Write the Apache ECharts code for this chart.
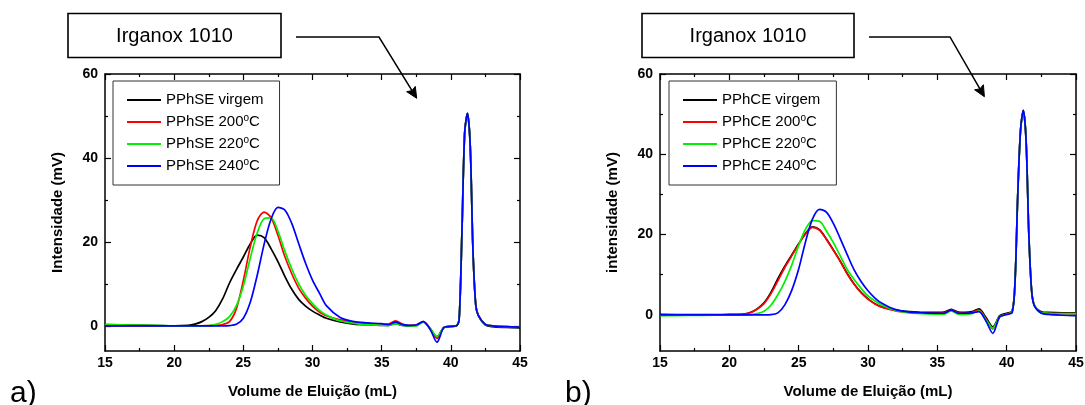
<!DOCTYPE html>
<html><head><meta charset="utf-8">
<script src="https://cdn.jsdelivr.net/npm/echarts@6/dist/echarts.min.js"></script>
<style>html,body{margin:0;padding:0;background:#fff;}#c{width:1085px;height:405px;}</style>
</head><body><div id="c"></div>
<script>
// ---------- data ----------
const elutionVol = [15, 17, 19, 20, 21, 21.5, 22, 22.5, 23, 23.5, 24, 24.5, 25, 25.5, 26, 26.5, 27, 27.5, 28, 28.5, 29, 29.5, 30, 30.5, 31, 32, 33, 34, 35, 35.5, 36, 36.5, 37, 37.5, 38, 38.5, 39, 39.5, 40, 40.4, 40.6, 40.8, 41, 41.2, 41.4, 41.6, 41.8, 42, 42.5, 43, 44, 45];

// a) PPhSE
const namesA = ['PPhSE virgem', 'PPhSE 200°C', 'PPhSE 220°C', 'PPhSE 240°C'];
const virgemA = [0.3, 0.2, 0.05, 0.0, 0.1, 0.4, 1.0, 2.0, 3.6, 6.4, 10.2, 13.4, 16.4, 19.5, 21.6, 21.0, 18.4, 15.3, 11.8, 8.7, 6.3, 4.7, 3.5, 2.6, 1.8, 0.9, 0.4, 0.25, 0.1, 0.1, 0.5, 0.1, 0.0, 0.1, 1.0, -0.7, -2.6, -0.4, -0.2, 0.0, 1.5, 22, 46, 50.6, 43, 18, 5, 2.3, 0.2, -0.2, -0.4, -0.5];
const t200A = [0.0, 0.0, 0.0, 0.0, 0.0, 0.0, 0.0, 0.05, 0.1, 0.3, 1.0, 4.1, 10.8, 18.8, 25.0, 27.1, 25.8, 21.6, 16.5, 12.4, 9.0, 6.6, 4.7, 3.3, 2.4, 1.4, 0.8, 0.5, 0.3, 0.4, 1.2, 0.4, 0.1, 0.2, 1.0, -0.6, -3.0, -0.4, -0.1, 0.0, 1.5, 22, 46, 50.6, 43, 18, 5, 2.4, 0.3, 0.0, -0.2, -0.3];
const t220A = [0.3, 0.2, 0.05, 0.0, 0.0, 0.0, 0.0, 0.05, 0.35, 1.0, 2.2, 4.8, 9.5, 16.1, 22.1, 25.5, 25.7, 22.6, 17.8, 13.6, 10.0, 7.3, 5.3, 3.7, 2.6, 1.2, 0.6, 0.3, 0.15, 0.1, 0.5, 0.1, 0.0, 0.0, 0.9, -0.6, -2.5, -0.4, -0.1, 0.1, 1.5, 22, 46, 50.6, 43, 18, 5, 2.4, 0.3, 0.0, -0.2, -0.3];
const t240A = [0, 0, 0, 0, 0, 0, 0, 0, 0, 0, 0.05, 0.35, 1.8, 5.6, 12.0, 19.4, 25.4, 28.2, 27.6, 24.4, 19.6, 14.9, 10.9, 7.8, 4.8, 2.0, 1.0, 0.7, 0.5, 0.3, 0.9, 0.3, 0.1, 0.2, 1.0, -0.8, -3.9, -0.4, -0.1, 0.0, 1.5, 22, 46, 50.6, 43, 18, 5, 2.4, 0.3, 0.0, -0.2, -0.3];

// b) PPhCE
const namesB = ['PPhCE virgem', 'PPhCE 200°C', 'PPhCE 220°C', 'PPhCE 240°C'];
const virgemB = [0.1, 0.05, 0.05, 0.1, 0.2, 0.6, 1.5, 3.0, 5.6, 9.0, 12.1, 14.9, 17.7, 20.3, 21.9, 21.2, 18.9, 16.2, 13.4, 10.3, 7.7, 5.6, 4.0, 2.8, 2.0, 1.2, 0.8, 0.6, 0.6, 0.7, 1.4, 0.7, 0.6, 0.8, 1.5, -0.6, -3.0, -0.2, 0.4, 1.0, 8, 30, 46, 50.8, 43.5, 20, 6, 2.4, 0.8, 0.6, 0.5, 0.5];
const t200B = [0, 0, 0, 0.05, 0.1, 0.5, 1.4, 2.8, 5.3, 8.5, 11.8, 14.7, 17.6, 20.2, 21.8, 21.1, 18.8, 16.1, 13.3, 10.2, 7.6, 5.5, 3.9, 2.7, 1.9, 1.0, 0.6, 0.4, 0.4, 0.5, 1.2, 0.5, 0.4, 0.6, 1.2, -1.0, -3.5, -0.4, 0.2, 0.9, 8, 30, 46, 50.8, 43.5, 20, 6, 2.3, 0.6, 0.4, 0.3, 0.3];
const t220B = [-0.2, -0.15, -0.1, 0, 0, 0.05, 0.3, 0.9, 2.4, 5.0, 8.3, 12.4, 17.3, 21.4, 23.5, 23.3, 20.9, 18.0, 14.7, 11.3, 8.8, 6.6, 4.7, 3.5, 2.4, 1.1, 0.5, 0.3, 0.2, 0.2, 1.0, 0.2, 0.1, 0.3, 1.0, -1.2, -3.3, -0.4, 0.1, 0.8, 8, 30, 46, 50.8, 43.5, 20, 6, 2.5, 0.5, 0.4, 0.3, 0.3];
const t240B = [0, 0, 0, 0, 0, 0, 0, 0, 0.05, 0.5, 2.5, 6.1, 11.4, 18.3, 23.9, 26.3, 25.6, 22.8, 19.0, 15.0, 11.2, 8.3, 6.0, 4.2, 2.9, 1.3, 0.7, 0.5, 0.4, 0.4, 1.2, 0.4, 0.4, 0.5, 0.8, -1.5, -4.6, -0.5, 0.1, 0.6, 8, 30, 46, 51, 43.5, 20, 6, 2.2, 0.4, 0.1, -0.1, -0.2];

// axis ticks
const xMajorTicks = [15, 20, 25, 30, 35, 40, 45];
const xMinorTicks = [17.5, 22.5, 27.5, 32.5, 37.5, 42.5];
const yMajorTicks = [0, 20, 40, 60];
const yMinorTicks = [10, 30, 50];
const xRange = [15, 45];
const yRangeA = [-6, 60];
const yRangeB = [-9, 60];
const colors = ['#000000', '#ff0000', '#00f000', '#0000ff'];

// ---------- chart ----------
const FONT = '"Liberation Sans", Arial, sans-serif';
const AX = { color: '#000', width: 1.5 };

function xAxes(g) {
  const base = { gridIndex: g, type: 'value', min: xRange[0], max: xRange[1], splitLine: { show: false } };
  return [
    Object.assign({}, base, { position: 'bottom', axisLine: { show: true, onZero: false, lineStyle: AX },
      axisTick: { inside: true, length: 6, customValues: xMajorTicks, lineStyle: { color: '#000', width: 1.2 } },
      axisLabel: { customValues: xMajorTicks, fontFamily: FONT, fontWeight: 'bold', fontSize: 14, color: '#000', margin: 5 },
      name: 'Volume de Eluição (mL)', nameLocation: 'middle', nameGap: 33,
      nameTextStyle: { fontFamily: FONT, fontWeight: 'bold', fontSize: 15, color: '#000' } }),
    Object.assign({}, base, { position: 'top', axisLine: { show: true, onZero: false, lineStyle: AX },
      axisTick: { inside: true, length: 6, customValues: xMajorTicks, lineStyle: { color: '#000', width: 1.2 } },
      axisLabel: { show: false } }),
    Object.assign({}, base, { position: 'bottom', axisLine: { show: false, onZero: false },
      axisTick: { inside: true, length: 3, customValues: xMinorTicks, lineStyle: { color: '#000', width: 1.2 } },
      axisLabel: { show: false } }),
    Object.assign({}, base, { position: 'top', axisLine: { show: false, onZero: false },
      axisTick: { inside: true, length: 3, customValues: xMinorTicks, lineStyle: { color: '#000', width: 1.2 } },
      axisLabel: { show: false } })
  ];
}
function yAxes(g, range, title) {
  const base = { gridIndex: g, type: 'value', min: range[0], max: range[1], splitLine: { show: false } };
  return [
    Object.assign({}, base, { position: 'left', axisLine: { show: true, onZero: false, lineStyle: AX },
      axisTick: { inside: true, length: 6, customValues: yMajorTicks, lineStyle: { color: '#000', width: 1.2 } },
      axisLabel: { customValues: yMajorTicks, fontFamily: FONT, fontWeight: 'bold', fontSize: 14, color: '#000', margin: 7 },
      name: title, nameLocation: 'middle', nameGap: 40, nameRotate: 90,
      nameTextStyle: { fontFamily: FONT, fontWeight: 'bold', fontSize: 15, color: '#000' } }),
    Object.assign({}, base, { position: 'right', axisLine: { show: true, onZero: false, lineStyle: AX },
      axisTick: { inside: true, length: 6, customValues: yMajorTicks, lineStyle: { color: '#000', width: 1.2 } },
      axisLabel: { show: false } }),
    Object.assign({}, base, { position: 'left', axisLine: { show: false, onZero: false },
      axisTick: { inside: true, length: 3, customValues: yMinorTicks, lineStyle: { color: '#000', width: 1.2 } },
      axisLabel: { show: false } }),
    Object.assign({}, base, { position: 'right', axisLine: { show: false, onZero: false },
      axisTick: { inside: true, length: 3, customValues: yMinorTicks, lineStyle: { color: '#000', width: 1.2 } },
      axisLabel: { show: false } })
  ];
}
function mkSeries(names, arrays, xi, yi) {
  return arrays.map((arr, k) => ({
    name: names[k], type: 'line', xAxisIndex: xi, yAxisIndex: yi,
    data: elutionVol.map((x, i) => [x, arr[i]]),
    symbol: 'none', smooth: 0.3, color: colors[k],
    lineStyle: { color: colors[k], width: 1.7 }, silent: true, z: 2 + k
  }));
}
function mkLegend(names, left) {
  return {
    data: names, left: left, top: 81, orient: 'vertical', icon: 'rect',
    itemWidth: 34, itemHeight: 2, itemGap: 4, padding: [10, 16, 10, 14],
    borderColor: '#333', borderWidth: 1, backgroundColor: '#fff', selectedMode: false,
    formatter: n => n.replace('°', '{s|o}'),
    textStyle: { fontFamily: FONT, fontSize: 15, color: '#000', lineHeight: 18,
      rich: { s: { fontFamily: FONT, fontSize: 10, lineHeight: 8, verticalAlign: 'top', color: '#000' } } }
  };
}
function arrowGraphics(box, text, start, corner, tip, head1, head2, notch) {
  return [
    { type: 'rect', shape: { x: box[0], y: box[1], width: box[2], height: box[3] },
      style: { fill: '#fff', stroke: '#000', lineWidth: 1.6 } },
    { type: 'text', style: { text: text, x: box[0] + box[2] / 2, y: box[1] + box[3] / 2 + 1, textAlign: 'center', textVerticalAlign: 'middle',
      font: '20px ' + FONT, fill: '#000' } },
    { type: 'polyline', shape: { points: [start, corner, notch] }, style: { stroke: '#000', lineWidth: 1.5, fill: null } },
    { type: 'polygon', shape: { points: [head1, tip, head2, notch] }, style: { fill: '#000', stroke: '#000', lineWidth: 1 } }
  ];
}

const option = {
  animation: false,
  backgroundColor: '#fff',
  grid: [
    { left: 105, top: 74, width: 415, height: 277, containLabel: false, outerBoundsMode: 'none' },
    { left: 660, top: 74, width: 416, height: 277, containLabel: false, outerBoundsMode: 'none' }
  ],
  xAxis: xAxes(0).concat(xAxes(1)),
  yAxis: yAxes(0, yRangeA, 'Intensidade (mV)').concat(yAxes(1, yRangeB, 'intensidade (mV)')),
  legend: [mkLegend(namesA, 113), mkLegend(namesB, 669)],
  series: mkSeries(namesA, [virgemA, t200A, t220A, t240A], 0, 0)
    .concat(mkSeries(namesB, [virgemB, t200B, t220B, t240B], 4, 4)),
  graphic: [].concat(
    arrowGraphics([68, 13.5, 213, 44], 'Irganox 1010', [296, 37], [379, 37], [416.7, 98.3], [415.3, 86.4], [406.7, 91.7], [412, 90.6]),
    arrowGraphics([642, 13.5, 212, 44], 'Irganox 1010', [869, 37], [950, 37], [984.4, 96.7], [983.4, 84.7], [974.6, 89.8], [979.9, 88.9]),
    [
      { type: 'text', style: { text: 'a)', x: 10, y: 394, textAlign: 'left', textVerticalAlign: 'middle', font: '30px ' + FONT, fill: '#000' } },
      { type: 'text', style: { text: 'b)', x: 565, y: 394, textAlign: 'left', textVerticalAlign: 'middle', font: '30px ' + FONT, fill: '#000' } }
    ]
  )
};
const chart = echarts.init(document.getElementById('c'), null, { renderer: 'canvas' });
chart.setOption(option);
</script>
</body></html>
